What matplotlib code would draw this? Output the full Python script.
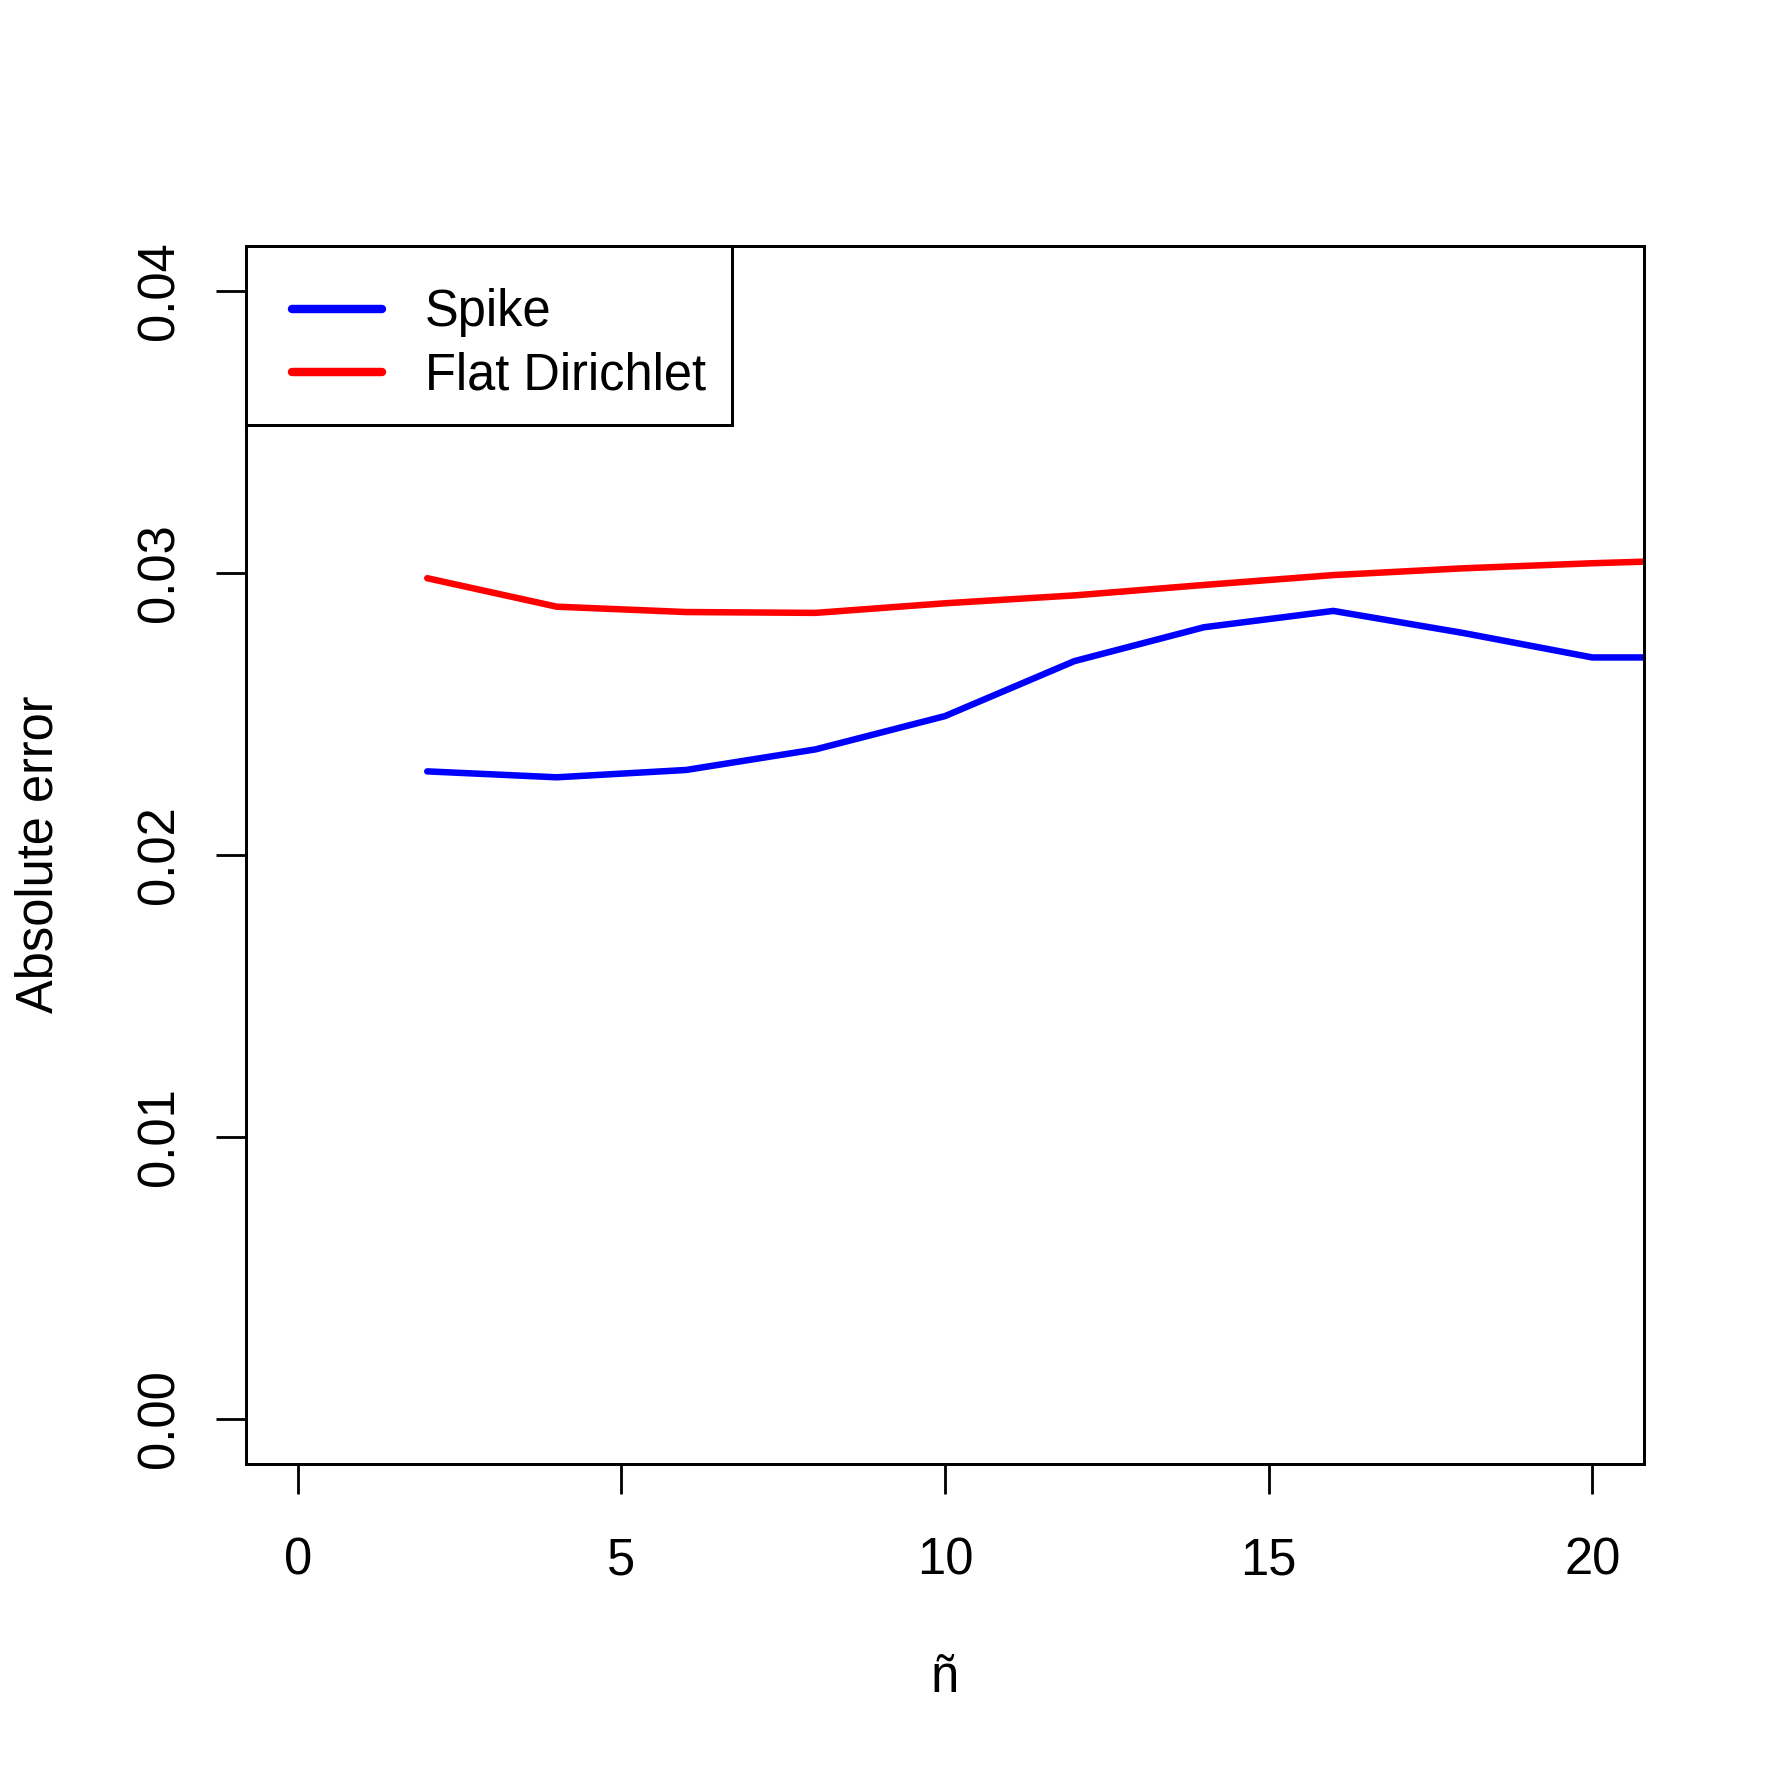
import matplotlib
matplotlib.use("Agg")
import matplotlib.pyplot as plt
from matplotlib.patches import Rectangle

plt.rcParams['font.family'] = ['Liberation Sans', 'DejaVu Sans']

# Data
n_tilde = [2, 4, 6, 8, 10, 12, 14, 16, 18, 20, 22]
spike = [0.02296, 0.02275, 0.02301, 0.02374, 0.02492, 0.02687, 0.02807,
         0.02865, 0.02787, 0.02700, 0.02700]
flat_dirichlet = [0.02981, 0.02880, 0.02861, 0.02858, 0.02892, 0.02920,
                  0.02957, 0.02992, 0.03016, 0.03034, 0.03048]
series_labels = ["Spike", "Flat Dirichlet"]
x_ticks = [0, 5, 10, 15, 20]
y_ticks = [0.00, 0.01, 0.02, 0.03, 0.04]
y_tick_labels = ["0.00", "0.01", "0.02", "0.03", "0.04"]

W = 1771
DPI = 253
fig = plt.figure(figsize=(W / DPI, W / DPI), dpi=DPI)
ax_l, ax_r, ax_t, ax_b = 246, 1644, 245.7, 1464
ax = fig.add_axes([ax_l / W, 1 - ax_b / W, (ax_r - ax_l) / W, (ax_b - ax_t) / W])

lw_line = 1.85
ax.plot(n_tilde, spike, color=(0, 0, 1), lw=lw_line, solid_joinstyle='round',
        solid_capstyle='round', label=series_labels[0])
ax.plot(n_tilde, flat_dirichlet, color=(1, 0, 0), lw=lw_line, solid_joinstyle='round',
        solid_capstyle='round', label=series_labels[1])

ax.set_xlim(-0.8, 20.8)
ax.set_ylim(-0.0016, 0.0416)
ax.set_xticks(x_ticks)
ax.set_xticklabels([str(t) for t in x_ticks])
ax.set_yticks(y_ticks)
ax.set_yticklabels(y_tick_labels)

fs = 14.4
for s in ax.spines.values():
    s.set_linewidth(0.85)
    s.set_color('black')
ax.tick_params(axis='both', direction='out', length=8.5, width=0.8,
               labelsize=fs, colors='black')
ax.tick_params(axis='x', pad=12.0)
ax.tick_params(axis='y', pad=9.0, labelrotation=90)
for t in ax.get_yticklabels():
    t.set_va('center')

fig.text(53 / W, 1 - 854.5 / W, "Absolute error", rotation=90,
         rotation_mode='anchor', ha='center', va='baseline', fontsize=fs)
fig.text(945 / W, 1 - 1691.7 / W, "ñ", ha='center', va='baseline', fontsize=fs)

# legend box (R-style, asymmetric padding)
aw, ah = ax_r - ax_l, ax_b - ax_t
box_right, box_bottom = 732, 424.7
ax.add_patch(Rectangle((0, 1 - (box_bottom - ax_t) / ah), (box_right - ax_l) / aw,
                       (box_bottom - ax_t) / ah, transform=ax.transAxes,
                       facecolor='white', edgecolor='black', lw=0.85,
                       clip_on=False, zorder=4))

leg = ax.legend(loc='upper left',
                bbox_to_anchor=((292 - ax_l) / aw, 1 - (288.3 - ax_t) / ah),
                borderaxespad=0, borderpad=0, frameon=False,
                fontsize=fs, handlelength=1.78, handletextpad=0.85,
                labelspacing=0.29)
leg.set_zorder(5)
for h in leg.get_lines():
    h.set_linewidth(2.4)
    h.set_solid_capstyle('round')

fig.savefig("out.png", dpi=DPI, facecolor='white')
